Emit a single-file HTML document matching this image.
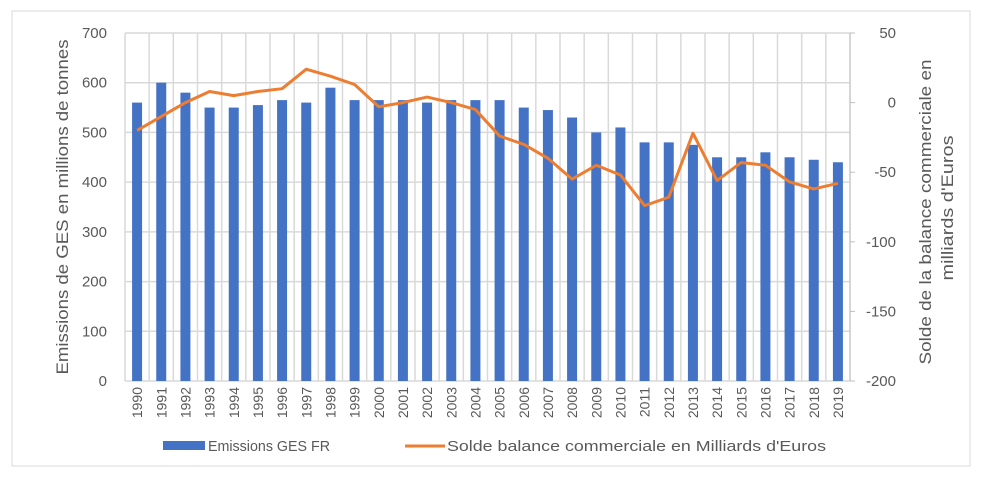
<!DOCTYPE html>
<html><head><meta charset="utf-8"><style>
body{margin:0;background:#fff;font-family:"Liberation Sans",sans-serif}
svg text{font-family:"Liberation Sans",sans-serif;fill:#595959}
</style></head><body>
<svg id="c" width="981" height="478">
<rect x="12" y="11" width="958" height="455" fill="#fff" stroke="#d9d9d9"/>
<g id="grid"></g><g id="bars"></g><g id="line"></g><g id="axes"></g>
<text transform="translate(68,207) rotate(-90)" text-anchor="middle" font-size="17" textLength="335" lengthAdjust="spacingAndGlyphs">Emissions de GES en millions de tonnes</text>
<text transform="translate(931,212) rotate(-90)" text-anchor="middle" font-size="17" textLength="305" lengthAdjust="spacingAndGlyphs">Solde de la balance commerciale en</text>
<text transform="translate(953,208) rotate(-90)" text-anchor="middle" font-size="17" textLength="145" lengthAdjust="spacingAndGlyphs">milliards d'Euros</text>
<g>
<rect x="163" y="441" width="42" height="9" fill="#4472c4"/>
<text x="208" y="451" font-size="15" textLength="122" lengthAdjust="spacingAndGlyphs">Emissions GES FR</text>
<line x1="405" y1="446" x2="445" y2="446" stroke="#ed7d31" stroke-width="3"/>
<text x="447" y="451" font-size="15" textLength="379" lengthAdjust="spacingAndGlyphs">Solde balance commerciale en Milliards d'Euros</text>
</g>
</svg>
<script>
const years=[1990,1991,1992,1993,1994,1995,1996,1997,1998,1999,2000,2001,2002,2003,2004,2005,2006,2007,2008,2009,2010,2011,2012,2013,2014,2015,2016,2017,2018,2019];
const emissions=[560,600,580,550,550,555,565,560,590,565,565,565,560,565,565,565,550,545,530,500,510,480,480,475,450,450,460,450,445,440];
const solde=[-20,-10,0,8,5,8,10,24,19,13,-3,0,4,0,-5,-24,-30,-40,-55,-45,-52,-74,-68,-22,-56,-43,-45,-57,-62,-58];
const leftTicks=[0,100,200,300,400,500,600,700];
const rightTicks=[50,0,-50,-100,-150,-200];
const NS="http://www.w3.org/2000/svg";
const X0=125,X1=850,Y0=381,Y1=33;
const bw=(X1-X0)/years.length;
const yL=v=>Y0-(v/700)*(Y0-Y1);
const yR=v=>Y0-((v+200)/250)*(Y0-Y1);
const xC=i=>X0+bw*(i+0.5);
function mk(t,a,p){const e=document.createElementNS(NS,t);for(const k in a)e.setAttribute(k,a[k]);p.appendChild(e);return e;}
const g=document.getElementById('grid'),b=document.getElementById('bars'),l=document.getElementById('line'),ax=document.getElementById('axes');
leftTicks.forEach(v=>{
 const ln=mk('line',{x1:X0,x2:X1,y1:yL(v),y2:yL(v),stroke:'#d9d9d9','stroke-width':1.5},g);
 
 
 const t=mk('text',{x:X0-18,y:yL(v)+5,'text-anchor':'end','font-size':15},ax);t.textContent=v;
 
 
});
for(let i=0;i<=years.length;i++){
 const ln=mk('line',{x1:X0+bw*i,x2:X0+bw*i,y1:Y1,y2:Y0,stroke:'#d9d9d9','stroke-width':1.5},g);
 
 
}
rightTicks.forEach(v=>{
 const tk=mk('line',{x1:X1,x2:X1+5,y1:yR(v),y2:yR(v),stroke:'#bfbfbf'},ax);
 
 
 const t=mk('text',{x:X1+46,y:yR(v)+5,'text-anchor':'end','font-size':15},ax);t.textContent=v;
 
 
});
const ra=mk('line',{x1:X1,x2:X1,y1:Y1,y2:Y0,stroke:'#bfbfbf'},ax);


years.forEach((y,i)=>{
 const r=mk('rect',{x:xC(i)-5,y:yL(emissions[i]),width:10,height:Y0-yL(emissions[i]),fill:'#4472c4'},b);
 
 
 const t=mk('text',{transform:`translate(${xC(i)+5},${Y0+6}) rotate(-90)`,'text-anchor':'end','font-size':14},ax);t.textContent=y;
 
 
});
const p=mk('polyline',{points:solde.map((v,i)=>xC(i)+','+yR(v)).join(' '),fill:'none',stroke:'#ed7d31','stroke-width':3,'stroke-linejoin':'round'},l);


</script>
</body></html>
